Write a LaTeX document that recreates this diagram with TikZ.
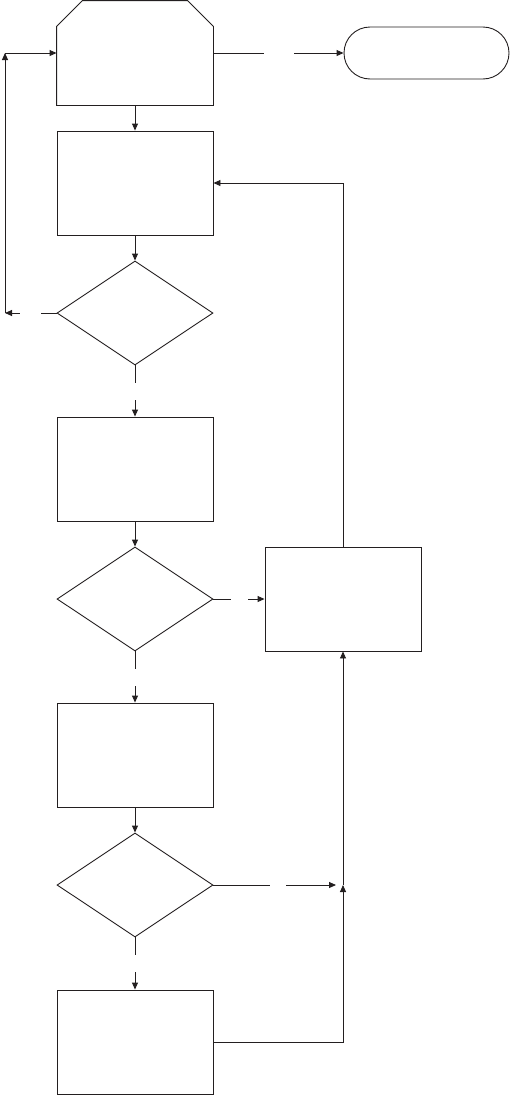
\documentclass[tikz,border=0pt]{standalone}
\usetikzlibrary{arrows.meta,shapes.geometric,calc}
\definecolor{ink}{HTML}{231F20}

\begin{document}
\begin{tikzpicture}[x=1pt,y=-1pt,
    line/.style={ink,line width=0.9pt},
    arr/.style={line,-{Triangle[length=7pt,width=6pt]}},
    procbox/.style={line,draw,rectangle,minimum width=156pt,minimum height=104pt,inner sep=0pt},
    decision/.style={line,draw,diamond,minimum width=156pt,minimum height=104pt,inner sep=0pt},
    terminal/.style={line,draw,rectangle,rounded corners=26pt,minimum width=165pt,minimum height=52pt,inner sep=0pt},
    gap/.style={fill=white,inner sep=0pt,minimum size=#1}]
  \useasboundingbox (0,0) rectangle (510,1095);

  % Start block, top corners cut off
  \node[procbox,draw=none] (start) at (135,53) {};
  \draw[line] (start.south west) -- ($(start.north west)+(0,26)$)
    -- ($(start.north west)+(26,0)$) -- ($(start.north east)+(-26,0)$)
    -- ($(start.north east)+(0,26)$) -- (start.south east) -- cycle;
  \node[terminal] (stop) at (426.5,53) {};

  % Main column
  \node[procbox]  (prep)   at (135,183) {};
  \node[decision] (check1) at (135,313) {};
  \node[procbox]  (step1)  at (135,469) {};
  \node[decision] (check2) at (135,599) {};
  \node[procbox]  (step2)  at (135,755) {};
  \node[decision] (check3) at (135,885) {};
  \node[procbox]  (step3)  at (135,1042) {};

  % Side block
  \node[procbox]  (fix)    at (343,599) {};

  \coordinate (loopL) at (5,313);
  \coordinate (loopT) at (5,53);
  \coordinate (join)  at (343,885);

  % Connectors
  \draw[arr] (start.east) -- node[gap=30pt] {} (stop.west);
  \draw[arr] (start.south) -- (prep.north);
  \draw[arr] (prep.south) -- (check1.north);
  \draw[arr] (check1.west) -- node[gap=21pt] {} (loopL);
  \draw[arr] (loopL) -- (loopT);
  \draw[arr] (loopT) -- (start.west);
  \draw[arr] (check1.south) -- node[gap=17pt] {} (step1.north);
  \draw[arr] (step1.south) -- (check2.north);
  \draw[arr] (check2.east) -- node[gap=17pt] {} (fix.west);
  \draw[arr] (fix.north) |- (prep.east);
  \draw[arr] (check2.south) -- node[gap=17pt] {} (step2.north);
  \draw[arr] (step2.south) -- (check3.north);
  \draw[arr,shorten >=7pt] (check3.east) -- node[gap=16pt] {} (join);
  \draw[arr] (check3.south) -- node[gap=17pt] {} (step3.north);
  \draw[arr] (step3.east) -| (join);
  \draw[arr] (join) -- (fix.south);
\end{tikzpicture}
\end{document}
